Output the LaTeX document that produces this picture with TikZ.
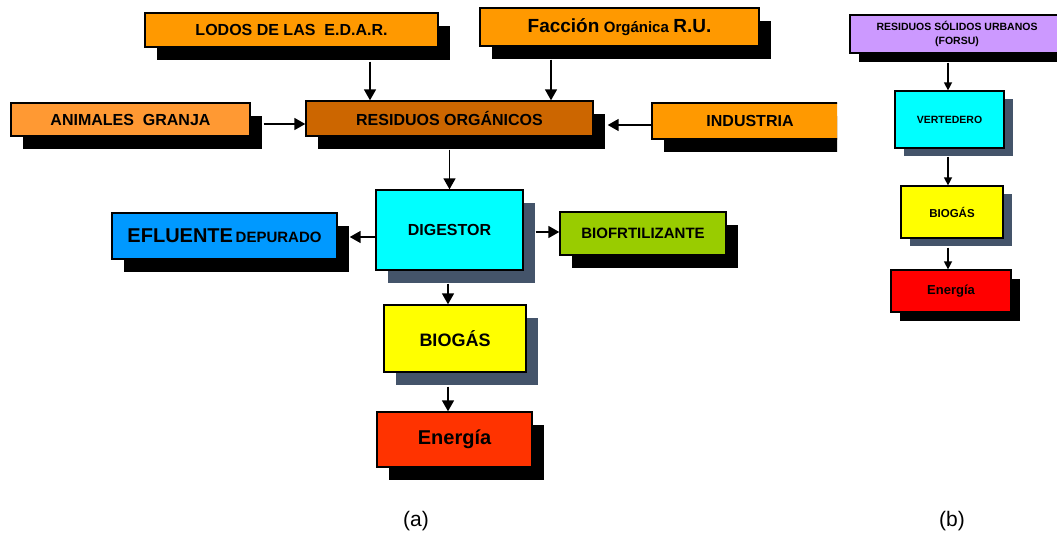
\documentclass[tikz,border=0pt]{standalone}
\usepackage{fontspec}
\setmainfont{Liberation Sans}
\usepackage{xcolor}
\usepackage{tikz}
\usetikzlibrary{arrows.meta,positioning,shadows,calc}
\definecolor{naranja}{HTML}{FF9900}
\definecolor{naranjaclaro}{HTML}{FF9933}
\definecolor{marron}{HTML}{CC6600}
\definecolor{cian}{HTML}{00FFFF}
\definecolor{azul}{HTML}{0099FF}
\definecolor{verde}{HTML}{99CC00}
\definecolor{amarillo}{HTML}{FFFF00}
\definecolor{rojo}{HTML}{FF3300}
\definecolor{rojob}{HTML}{FF0000}
\definecolor{lila}{HTML}{CC99FF}
\definecolor{pizarra}{HTML}{44546A}
\newcommand{\fsz}[1]{\fontsize{#1}{#1}\selectfont}

\begin{document}
\begin{tikzpicture}[x=1pt, y=-1pt, line width=1.6pt, >={Triangle[length=11pt,width=12pt]},
  every node/.style={align=center, inner sep=0pt},
  caja/.style={draw, line width=1.4pt, font=\bfseries\fsz{16}},
  sombra/.style={drop shadow={shadow xshift=12pt, shadow yshift=-13pt, fill=black, opacity=1}},
  sombragris/.style={drop shadow={shadow xshift=12pt, shadow yshift=-13pt, fill=pizarra, opacity=1}},
  sombrab/.style={drop shadow={shadow xshift=9pt, shadow yshift=-9pt, fill=black, opacity=1}},
  sombragrisb/.style={drop shadow={shadow xshift=9pt, shadow yshift=-8pt, fill=pizarra, opacity=1}},
  flechab/.style={->, line width=1.3pt, >={Triangle[length=8pt,width=8pt]}}]
\useasboundingbox (0,0) rectangle (1057,535);
% (a)
\node[caja, fill=naranja, sombra, minimum width=293, minimum height=34] (lodos) at (291.5,30) {LODOS DE LAS\ \ E.D.A.R.};
\node[caja, fill=naranja, sombra, minimum width=279, minimum height=38] (facc) at (619.5,27) {{\fsz{19}Facción} {\fsz{15}Orgánica} {\fsz{19}R.U.}};
\node[caja, fill=naranjaclaro, sombra, minimum width=239, minimum height=33] (animales) at (130.5,119.5) {ANIMALES\ \ GRANJA};
\node[caja, fill=marron, sombra, minimum width=287, minimum height=35] (resorg) at (449.5,118.5) {RESIDUOS ORGÁNICOS};
\begin{scope}
\clip (0,0) rectangle (837,535);
\node[caja, fill=naranja, sombra, minimum width=196, minimum height=36] (industria) at (750,121) {INDUSTRIA};
\end{scope}
\node[caja, fill=cian, sombragris, minimum width=147, minimum height=80] (digestor) at (449.5,230) {DIGESTOR};
\node[caja, fill=azul, sombra, minimum width=225, minimum height=46] (efluente) at (224.5,236) {{\fsz{20}EFLUENTE}\,{\fsz{15}DEPURADO}};
\node[caja, fill=verde, sombra, minimum width=166, minimum height=43, font=\bfseries\fsz{15}] (biofert) at (643,233.5) {BIOFRTILIZANTE};
\node[caja, fill=amarillo, sombragris, minimum width=142, minimum height=67, font=\bfseries\fsz{18}] (biogas) at (455,338.5) {BIOGÁS};
\node[caja, fill=rojo, sombra, minimum width=155, minimum height=55, font=\bfseries\fsz{20}] (energia) at (454.5,439.5) {Energía};
\draw[->] ([xshift=78.5pt,yshift=-14pt]lodos.south) coordinate (l1) -- (l1 |- resorg.north);
\draw[->] ([xshift=-68.5pt,yshift=-13pt]facc.south) coordinate (f1) -- (f1 |- resorg.north);
\draw[->] ([xshift=13pt,yshift=-4.5pt]animales.east) coordinate (a1) -- (a1 -| resorg.west);
\draw[->] ([yshift=-4pt]industria.west) coordinate (i1) -- ($(i1 -| resorg.east)+(14,0)$);
\draw[->] ([yshift=-13pt]resorg.south) -- (digestor.north);
\draw[->] ([yshift=-7pt]digestor.west) coordinate (d1) -- ($(d1 -| efluente.east)+(12,0)$);
\draw[->] ([xshift=12pt,yshift=-2pt]digestor.east) coordinate (d2) -- (d2 -| biofert.west);
\draw[->] ([xshift=-1.5pt,yshift=-13pt]digestor.south) coordinate (d3) -- (d3 |- biogas.north);
\draw[->] ([xshift=-7pt,yshift=-14pt]biogas.south) coordinate (b1) -- (b1 |- energia.north);
% (b)
\node[caja, fill=lila, sombrab, line width=1.2pt, minimum width=214, minimum height=38, font=\bfseries\fontsize{10.5}{14.5}\selectfont] (rsu) at (957,34) {RESIDUOS SÓLIDOS URBANOS\\(FORSU)};
\node[caja, fill=cian, sombragrisb, line width=1.2pt, minimum width=109, minimum height=57, font=\bfseries\fsz{10.5}] (vert) at (949.5,119.5) {VERTEDERO};
\node[caja, fill=amarillo, sombragrisb, line width=1.2pt, minimum width=102, minimum height=52, font=\bfseries\fsz{11.5}] (biogasb) at (952,212) {BIOGÁS};
\node[caja, fill=rojob, sombrab, line width=1.2pt, minimum width=120, minimum height=42, font=\bfseries\fsz{13}] (energiab) at (951,291) {Energía};
\draw[flechab] ([xshift=-9pt,yshift=-9pt]rsu.south) coordinate (r1) -- (r1 |- vert.north);
\draw[flechab] ([xshift=-1.5pt,yshift=-8pt]vert.south) coordinate (v1) -- (v1 |- biogasb.north);
\draw[flechab] ([xshift=-4pt,yshift=-9pt]biogasb.south) coordinate (v2) -- (v2 |- energiab.north);
% etiquetas
\node[font=\fsz{21}] (etqa) at (416,521) {(a)};
\node[font=\fsz{21}] (etqb) at (952,521) {(b)};
\end{tikzpicture}
\end{document}
